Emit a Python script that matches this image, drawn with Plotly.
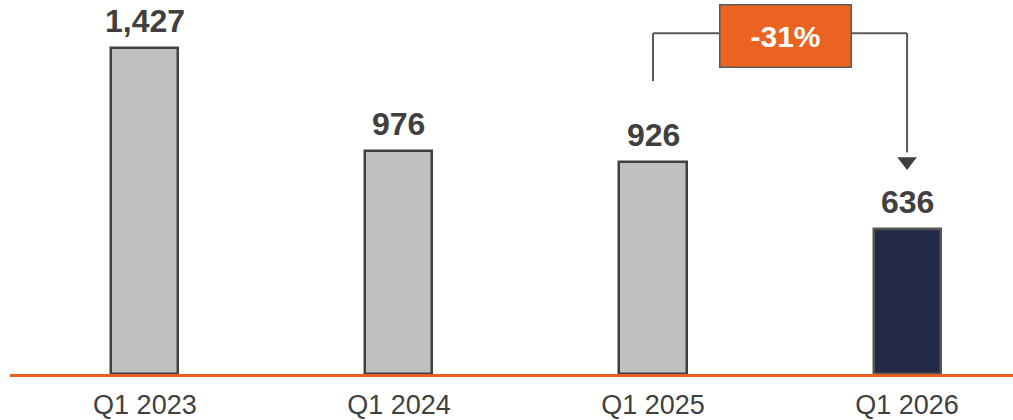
import plotly.graph_objects as go

categories = ["Q1 2023", "Q1 2024", "Q1 2025", "Q1 2026"]
values = [1427, 976, 926, 636]
value_labels = ["1,427", "976", "926", "636"]
bar_colors = ["#c0c0c0", "#c0c0c0", "#c0c0c0", "#222a48"]
change_label = "-31%"

# connector levels (data units)
conn_level = 1492
left_drop_end = 1282
arrow_tip = 930

FONT = "Liberation Sans Narrow, Arial Narrow, Liberation Sans, Arial, sans-serif"
GRAY = "#404040"
ORANGE = "#ea6320"
LINE = "#595959"

xs = list(range(len(categories)))

fig = go.Figure()
fig.add_trace(go.Bar(
    x=xs, y=values, width=0.264,
    marker=dict(color=bar_colors, line=dict(color=["#404040"]*3 + ["#555555"], width=2.5)),
    hoverinfo="skip",
))

for x, v, t in zip(xs, values, value_labels):
    fig.add_annotation(x=x, y=v, text="<b>%s</b>" % t, showarrow=False,
                       yanchor="bottom", yshift=7,
                       font=dict(family=FONT, size=32, color=GRAY))

# connector lines
i_from, i_to = 2, 3
fig.add_shape(type="line", xref="x", yref="y", x0=i_from, x1=i_from, y0=left_drop_end, y1=conn_level,
              line=dict(color=LINE, width=2))
fig.add_shape(type="line", xref="x", yref="y", x0=i_from, x1=i_to, y0=conn_level, y1=conn_level,
              line=dict(color=LINE, width=2))
fig.add_shape(type="line", xref="x", yref="y", x0=i_to, x1=i_to, y0=conn_level, y1=arrow_tip + 40,
              line=dict(color=LINE, width=2))
fig.add_trace(go.Scatter(x=[i_to], y=[arrow_tip], mode="markers",
                         marker=dict(symbol="triangle-down", size=17, color="#404040"),
                         marker_line_width=0, hoverinfo="skip", cliponaxis=False))

fig.add_annotation(x=2.52, y=conn_level, text="<b>%s</b>" % change_label, showarrow=False,
                   yshift=-3,
                   width=128, height=59, bgcolor=ORANGE, bordercolor="#5a5a5a", borderwidth=1.5,
                   font=dict(family=FONT, size=30, color="white"))

fig.update_layout(
    width=1013, height=420,
    margin=dict(l=10, r=0, t=0, b=46),
    paper_bgcolor="white", plot_bgcolor="white",
    showlegend=False,
    bargap=0,
)
fig.update_xaxes(
    range=[-0.531, 3.417], tickmode="array", tickvals=xs, ticktext=categories,
    showgrid=False, zeroline=False, showline=True, linecolor="#e8601c", linewidth=3,
    ticks="", tickfont=dict(family=FONT, size=27, color=GRAY), ticklabelstandoff=5,
)
fig.update_yaxes(range=[0, 1637], visible=False, showgrid=False, zeroline=False)

fig.write_html("out.html")
